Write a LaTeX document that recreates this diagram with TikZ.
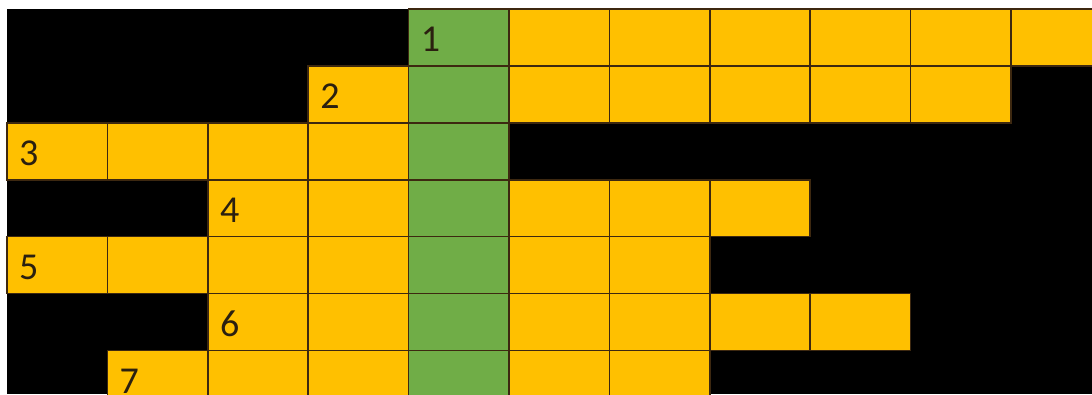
\documentclass[tikz,border=0pt]{standalone}
\usepackage{fontspec}
\setmainfont{Carlito}
\definecolor{cyel}{HTML}{FFC000}
\definecolor{cgrn}{HTML}{70AD47}
\definecolor{cline}{HTML}{3D2810}
\definecolor{ctxt}{HTML}{2B2010}
\begin{document}
\begin{tikzpicture}[x=1pt,y=-1pt,
  ycell/.style={fill=cyel,draw=cline,line width=1.6pt},
  gcell/.style={fill=cgrn,draw=cline,line width=1.6pt},
  num/.style={anchor=west,inner sep=0pt,text=ctxt,font=\fontsize{38}{40}\selectfont}]
\useasboundingbox (0,0) rectangle (1092,394);
\clip (0,0) rectangle (1092,394);
\fill[white] (0,0) rectangle (1092,394);
\fill[black] (7,9) rectangle (1092,394);
\newcommand\cellat[3]{\path[#3] ({7+100.4*#1},{9+56.9*#2}) rectangle ({7+100.4*(#1+1)},{9+56.9*(#2+1)});}
% yellow cells
\foreach \c in {5,...,10} {\cellat{\c}{0}{ycell}}
\foreach \c in {3,5,6,7,8,9} {\cellat{\c}{1}{ycell}}
\foreach \c in {0,1,2,3} {\cellat{\c}{2}{ycell}}
\foreach \c in {2,3,5,6,7} {\cellat{\c}{3}{ycell}}
\foreach \c in {0,1,2,3,5,6} {\cellat{\c}{4}{ycell}}
\foreach \c in {2,3,5,6,7,8} {\cellat{\c}{5}{ycell}}
\foreach \c in {1,2,3,5,6} {\cellat{\c}{6}{ycell}}
% green column
\foreach \r in {0,...,6} {\cellat{4}{\r}{gcell}}
% numbers
\node[num] (n1) at ({7+100.4*4+12},{9+56.9*0.5+2}) {1};
\node[num] (n2) at ({7+100.4*3+12},{9+56.9*1.5+2}) {2};
\node[num] (n3) at ({7+100.4*0+12},{9+56.9*2.5+2}) {3};
\node[num] (n4) at ({7+100.4*2+12},{9+56.9*3.5+2}) {4};
\node[num] (n5) at ({7+100.4*0+12},{9+56.9*4.5+2}) {5};
\node[num] (n6) at ({7+100.4*2+12},{9+56.9*5.5+2}) {6};
\node[num] (n7) at ({7+100.4*1+12},{9+56.9*6.5+2}) {7};
\end{tikzpicture}
\end{document}
